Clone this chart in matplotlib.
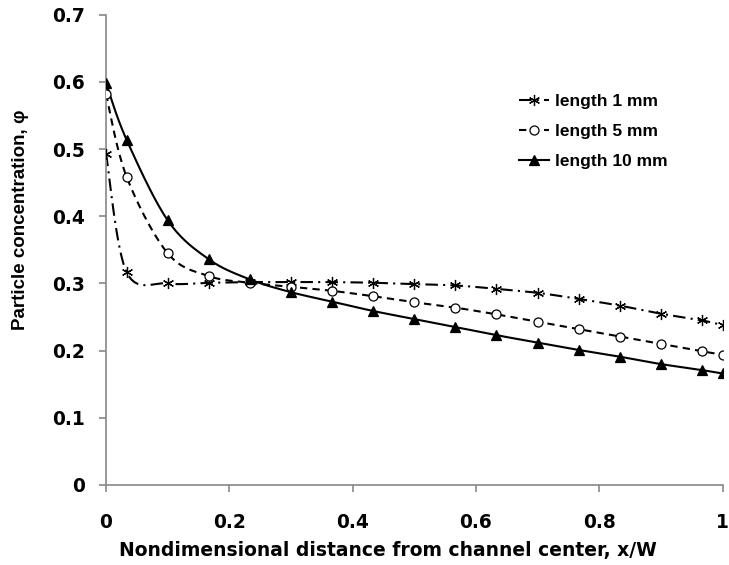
import numpy as np
import matplotlib
matplotlib.use('Agg')
import matplotlib.pyplot as plt

plt.rcParams['font.family'] = ['DejaVu Sans']
plt.rcParams['font.weight'] = 'bold'

# --- data ---
x_pos = [0, 0.0333, 0.1, 0.1667, 0.2333, 0.3, 0.3667, 0.4333, 0.5,
         0.5667, 0.6333, 0.7, 0.7667, 0.8333, 0.9, 0.9667, 1.0]
len_1mm = [0.493, 0.317, 0.300, 0.301, 0.302, 0.302, 0.302, 0.301, 0.299,
           0.297, 0.292, 0.286, 0.277, 0.267, 0.255, 0.245, 0.238]
len_5mm = [0.582, 0.459, 0.345, 0.311, 0.301, 0.295, 0.289, 0.281, 0.272,
           0.264, 0.254, 0.243, 0.232, 0.221, 0.210, 0.199, 0.194]
len_10mm = [0.598, 0.514, 0.394, 0.336, 0.306, 0.287, 0.273, 0.259, 0.247,
            0.235, 0.223, 0.212, 0.201, 0.191, 0.180, 0.171, 0.166]
labels = ['length 1 mm', 'length 5 mm', 'length 10 mm']
x_ticks = ['0', '0.2', '0.4', '0.6', '0.8', '1']
y_ticks = ['0', '0.1', '0.2', '0.3', '0.4', '0.5', '0.6', '0.7']


def smooth(x, y, sx=616.0, sy=673.0, n=20):
    # Excel-like smoothed line (bezier through the points, catmull-rom tangents)
    P = np.column_stack([np.asarray(x) * sx, np.asarray(y) * sy])
    out = [P[0]]
    t = np.linspace(0, 1, n)[1:, None]
    for i in range(len(P) - 1):
        p0 = P[max(i - 1, 0)]
        p1, p2 = P[i], P[i + 1]
        p3 = P[min(i + 2, len(P) - 1)]
        c1 = p1 + (p2 - p0) / 6
        c2 = p2 - (p3 - p1) / 6
        seg = ((1 - t) ** 3) * p1 + 3 * ((1 - t) ** 2) * t * c1 + 3 * (1 - t) * t ** 2 * c2 + t ** 3 * p2
        out.extend(seg)
    out = np.array(out)
    return out[:, 0] / sx, out[:, 1] / sy


W, H = 729, 565
fig = plt.figure(figsize=(W / 100, H / 100), dpi=100)
ax = fig.add_axes([106 / W, 1 - 485 / H, 616.5 / W, 470.3 / H])

styles = [
    dict(ls=(0, (6, 2.5, 1, 2.5)), marker=(6, 2, 0), ms=8, mfc='black'),
    dict(ls=(0, (3.5, 2.5)), marker='o', ms=6.5, mfc='white'),
    dict(ls='-', marker='^', ms=7, mfc='black'),
]
handles = []
for y, lab, st in zip([len_1mm, len_5mm, len_10mm], labels, styles):
    xs, ys = smooth(x_pos, y)
    ax.plot(xs, ys, color='black', lw=1.5, ls=st['ls'], zorder=2)
    ax.plot(x_pos, y, ls='none', marker=st['marker'], ms=st['ms'],
            mfc=st['mfc'], mec='black', mew=0.9, zorder=3)
    h, = ax.plot([], [], color='black', lw=1.5, ls=st['ls'], marker=st['marker'],
                 ms=st['ms'], mfc=st['mfc'], mec='black', mew=0.9)
    handles.append(h)

ax.set_xlim(0, 1)
ax.set_ylim(0, 0.7)
ax.set_xticks(np.linspace(0, 1, len(x_ticks)))
ax.set_xticklabels(x_ticks)
ax.set_yticks(np.linspace(0, 0.7, len(y_ticks)))
ax.set_yticklabels(y_ticks)

for s in ['top', 'right']:
    ax.spines[s].set_visible(False)
for s in ['left', 'bottom']:
    ax.spines[s].set_color('#888888')
    ax.spines[s].set_linewidth(1.2)
ax.tick_params(direction='out', length=5, width=1.2, color='#888888',
               labelsize=13.4, labelcolor='black')
ax.tick_params(axis='x', pad=15)
ax.tick_params(axis='y', pad=10)
for lbl in ax.get_xticklabels() + ax.get_yticklabels():
    lbl.set_fontweight('bold')

fig.text(388 / W, 1 - 556 / H, 'Nondimensional distance from channel center, x/W',
         fontsize=13.5, fontweight='bold', ha='center', va='baseline')
fig.text(20.5 / W, 1 - 220 / H, 'Particle concentration, φ', rotation=90,
         fontsize=13.5, fontweight='bold', ha='center', va='center',
         family=['Liberation Sans', 'DejaVu Sans'])

leg = fig.legend(handles, labels, loc='upper left', bbox_to_anchor=(519 / W, 1 - 94 / H),
                 frameon=False, handlelength=1.75, handletextpad=0.3,
                 labelspacing=0.86, borderpad=0, borderaxespad=0,
                 prop={'weight': 'bold', 'size': 12.5,
                       'family': ['Liberation Sans', 'DejaVu Sans']})

fig.savefig('out.png', dpi=100)
